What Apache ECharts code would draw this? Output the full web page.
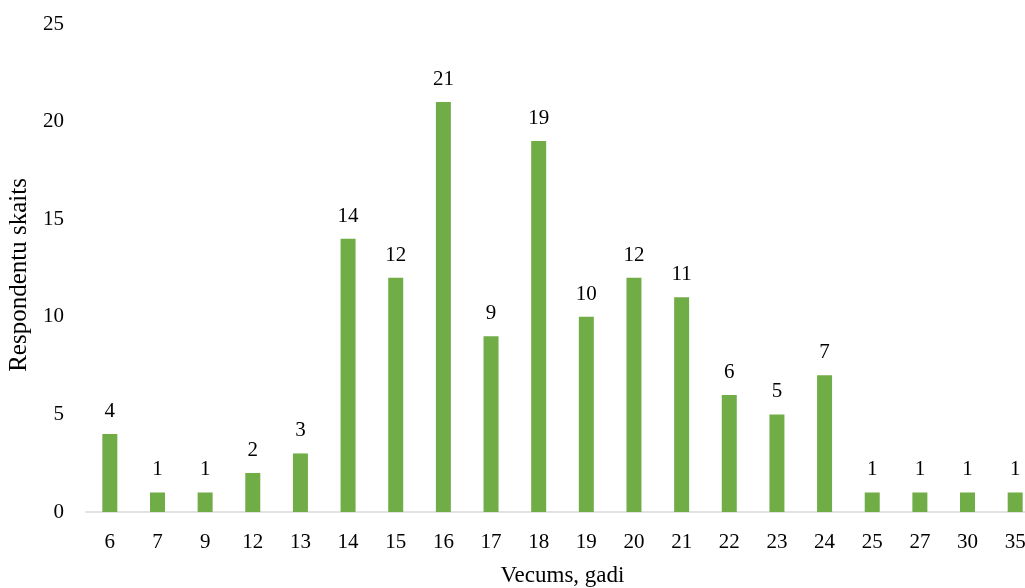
<!DOCTYPE html>
<html>
<head>
<meta charset="utf-8">
<script src="https://cdn.jsdelivr.net/npm/echarts@6/dist/echarts.min.js"></script>
<style>
html, body { margin: 0; padding: 0; background: #fff; }
#chart { width: 1025px; height: 588px; }
</style>
</head>
<body>
<div id="chart"></div>
<script>
// Respondents by age
const ages = ['6', '7', '9', '12', '13', '14', '15', '16', '17', '18', '19', '20', '21', '22', '23', '24', '25', '27', '30', '35'];
const counts = [4, 1, 1, 2, 3, 14, 12, 21, 9, 19, 10, 12, 11, 6, 5, 7, 1, 1, 1, 1];
const yTicks = [0, 5, 10, 15, 20, 25];

const font = '"Liberation Serif", "Times New Roman", serif';
const chart = echarts.init(document.getElementById('chart'));
chart.setOption({
  animation: false,
  grid: { left: 86, top: 24, width: 953, bottom: 76, outerBoundsMode: 'none' },
  xAxis: {
    type: 'category',
    data: ages,
    name: 'Vecums, gadi',
    nameLocation: 'middle',
    nameGap: 52,
    nameTextStyle: { fontFamily: font, fontSize: 23, color: '#000' },
    axisLine: { lineStyle: { color: '#d9d9d9', width: 1.5 } },
    axisTick: { show: false },
    axisLabel: { fontFamily: font, fontSize: 21, color: '#000', margin: 20 }
  },
  yAxis: {
    type: 'value',
    min: yTicks[0],
    max: yTicks[yTicks.length - 1],
    interval: 5,
    name: 'Respondentu skaits',
    nameLocation: 'middle',
    nameGap: 54,
    nameTextStyle: { fontFamily: font, fontSize: 25, color: '#000', padding: [0, 14, 0, 0] },
    axisLine: { show: false },
    axisTick: { show: false },
    splitLine: { show: false },
    axisLabel: { fontFamily: font, fontSize: 21, color: '#000', margin: 22 }
  },
  series: [{
    type: 'bar',
    data: counts,
    barWidth: 15,
    itemStyle: { color: '#70ad47' },
    label: {
      show: true,
      position: 'top',
      distance: 12,
      fontFamily: font,
      fontSize: 21,
      color: '#000'
    }
  }]
});
</script>
</body>
</html>
